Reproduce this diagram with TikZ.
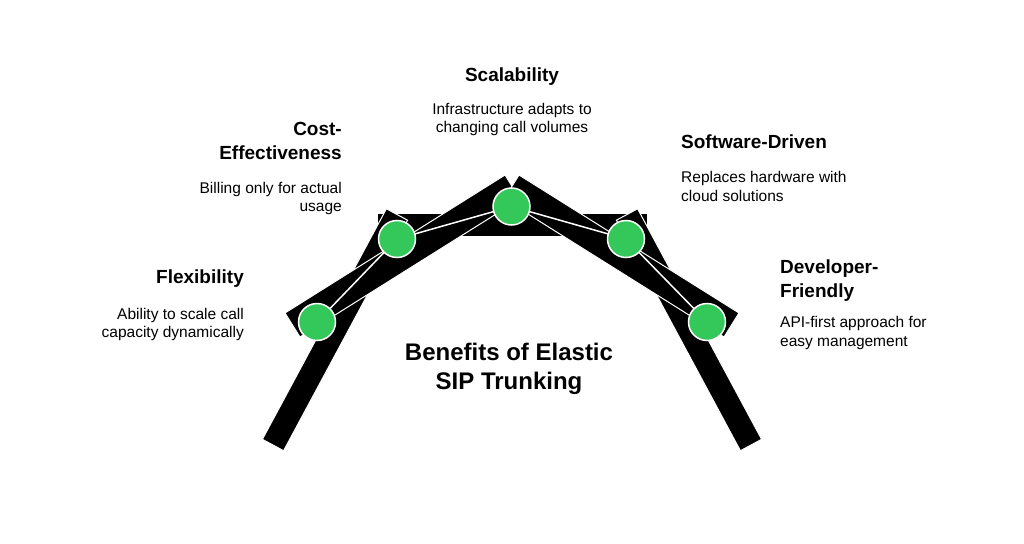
\documentclass[tikz,border=0pt]{standalone}
\usepackage{fontspec}
\setmainfont{Liberation Sans}
\usepackage{xcolor}
\usetikzlibrary{positioning}
\definecolor{dotgreen}{RGB}{52,199,89}

\begin{document}
\begin{tikzpicture}[x=1pt,y=-1pt]
\tikzstyle{bar}=[fill=black, draw=white, line width=1pt]
\tikzstyle{dot}=[circle, fill=dotgreen, draw=white, line width=1.5pt, minimum size=37pt, inner sep=0pt]
\tikzstyle{link}=[white, line width=1.5pt]
\tikzstyle{head}=[inner sep=0pt, font=\fontsize{19}{24}\selectfont\bfseries]
\tikzstyle{body}=[inner sep=0pt, font=\fontsize{15.5}{18.5}\selectfont]
\fill [white] (0,0) rectangle (1024,543);
\useasboundingbox (0,0) rectangle (1024,543);
% frame bars
\draw [bar] (377,213) rectangle (647,236);
\draw [bar] (262.4,439.3) -- (386.4,208.8) -- (407.6,220.2) -- (283.6,450.7) -- cycle;
\draw [bar] (761.6,439.3) -- (637.6,208.8) -- (616.4,220.2) -- (740.4,450.7) -- cycle;
\draw [bar] (285,313) -- (505,175) -- (520,199) -- (300,337) -- cycle;
\draw [bar] (739,313) -- (519,175) -- (504,199) -- (724,337) -- cycle;
% joints
\coordinate (p1) at (317,322);
\coordinate (p2) at (397,239);
\coordinate (p3) at (511.5,206.5);
\coordinate (p4) at (626,239);
\coordinate (p5) at (707,322);
\draw [link] (p1) -- (p2) -- (p3) -- (p4) -- (p5);
\node [dot] (flex) at (p1) {};
\node [dot] (cost) at (p2) {};
\node [dot] (scal) at (p3) {};
\node [dot] (soft) at (p4) {};
\node [dot] (dev) at (p5) {};
% labels
\node [head, anchor=north east] (flexT) at (244,270) {Flexibility};
\node [body, anchor=north east, align=right] (flexB) at (244,308) {Ability to scale call\\capacity dynamically};
\node [head, anchor=north east, align=right] (costT) at (342,122.5) {Cost-\\Effectiveness};
\node [body, anchor=north east, align=right] (costB) at (342,182) {Billing only for actual\\usage};
\node [head, anchor=north] (scalT) at (512,67.5) {Scalability};
\node [body, anchor=north, align=center] (scalB) at (512,103) {Infrastructure adapts to\\changing call volumes};
\node [head, anchor=north west] (softT) at (681,135) {Software-Driven};
\node [body, anchor=north west, align=left] (softB) at (681,171.5) {Replaces hardware with\\cloud solutions};
\node [head, anchor=north west, align=left] (devT) at (780,260) {Developer-\\Friendly};
\node [body, anchor=north west, align=left] (devB) at (780,316.5) {API-first approach for\\easy management};
\node [inner sep=0pt, anchor=north, align=center, font=\fontsize{24}{29}\selectfont\bfseries] (title) at (509,343) {Benefits of Elastic\\SIP Trunking};
\end{tikzpicture}
\end{document}
